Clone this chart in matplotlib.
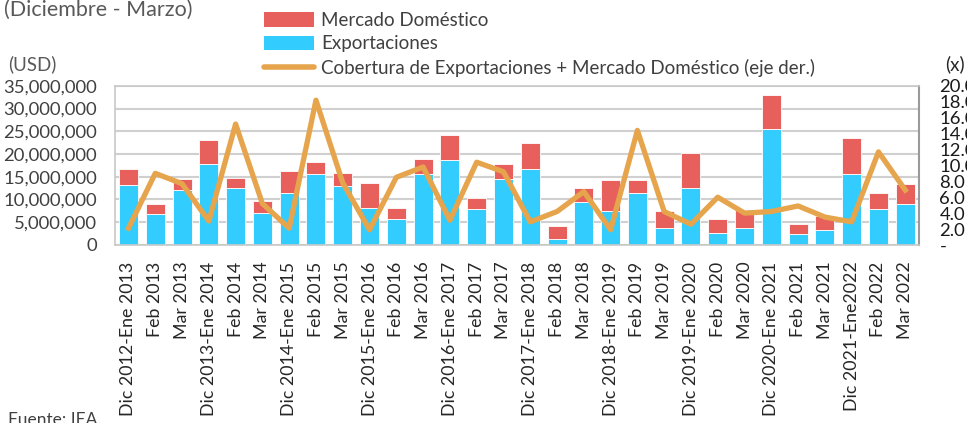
import matplotlib
matplotlib.use("Agg")
import matplotlib.pyplot as plt
import numpy as np
from matplotlib.patches import Patch
from matplotlib.lines import Line2D

plt.rcParams['font.family'] = ['Lato', 'DejaVu Sans']

# Datos (USD y cobertura en veces)
periodos = ["Dic 2012-Ene 2013", "Feb 2013", "Mar 2013",
            "Dic 2013-Ene 2014", "Feb 2014", "Mar 2014",
            "Dic 2014-Ene 2015", "Feb 2015", "Mar 2015",
            "Dic 2015-Ene 2016", "Feb 2016", "Mar 2016",
            "Dic 2016-Ene 2017", "Feb 2017", "Mar 2017",
            "Dic 2017-Ene 2018", "Feb 2018", "Mar 2018",
            "Dic 2018-Ene 2019", "Feb 2019", "Mar 2019",
            "Dic 2019-Ene 2020", "Feb 2020", "Mar 2020",
            "Dic 2020-Ene 2021", "Feb 2021", "Mar 2021",
            "Dic 2021-Ene2022", "Feb 2022", "Mar 2022"]

exportaciones = [13.1, 6.7, 12.0, 17.7, 12.6, 7.0, 11.4, 15.7, 13.0, 8.1,
                 5.6, 15.7, 18.6, 7.85, 14.6, 16.6, 1.25, 9.5, 7.4, 11.4,
                 3.8, 12.6, 2.7, 3.8, 25.5, 2.4, 3.3, 15.7, 7.85, 8.95]
total = [16.8, 9.0, 14.6, 23.0, 14.8, 9.75, 16.3, 18.3, 15.8, 13.7,
         8.1, 18.9, 24.1, 10.3, 17.7, 22.5, 4.2, 12.6, 14.2, 14.2,
         7.4, 20.2, 5.8, 7.7, 32.9, 4.7, 6.4, 23.6, 11.4, 13.4]
cobertura = [2.1, 9.0, 7.7, 3.0, 15.2, 5.2, 2.1, 18.2, 7.8, 1.9,
             8.5, 9.8, 3.1, 10.4, 9.2, 2.9, 4.2, 6.7, 1.9, 14.4,
             4.2, 2.6, 6.0, 4.0, 4.2, 4.9, 3.5, 2.9, 11.7, 6.9]

exportaciones = np.array(exportaciones) * 1e6
domestico = np.array(total) * 1e6 - exportaciones

c_rojo = '#E8605B'
c_azul = '#33CCFF'
c_naranja = '#E6A54C'
c_texto = '#404040'

fig = plt.figure(figsize=(9.67, 4.23), dpi=100)
ax = fig.add_axes([0.119, 0.421, 0.831, 0.376])

x = np.arange(len(periodos))
ax.bar(x, exportaciones, width=0.71, color=c_azul, edgecolor='white', linewidth=0.6, zorder=2)
ax.bar(x, domestico, width=0.71, bottom=exportaciones, color=c_rojo,
       edgecolor='white', linewidth=0.6, zorder=2)

ax.set_xlim(-0.5, len(periodos) - 0.5)
ax.set_ylim(0, 35e6)
ax.set_yticks(np.arange(0, 35e6 + 1, 5e6))
ax.set_yticklabels(['0' if v == 0 else f'{int(v):,}' for v in np.arange(0, 35e6 + 1, 5e6)],
                   fontsize=13.3, color=c_texto)
ax.yaxis.grid(True, color='#D0D0D0', linewidth=1.5, zorder=0)
ax.set_axisbelow(True)
ax.set_xticks(x)
ax.set_xticklabels(periodos, rotation=90, fontsize=12.8, color='#262626', va='top', ha='center')
ax.tick_params(axis='y', length=0, pad=13)
ax.tick_params(axis='x', length=0, pad=12)
for s in ['top', 'left', 'bottom']:
    ax.spines[s].set_color('#C8C8C8')
    ax.spines[s].set_linewidth(1.2)
ax.spines['right'].set_color('#9A9A9A')
ax.spines['right'].set_linewidth(1.5)

ax2 = ax.twinx()
ax2.plot(x, cobertura, color=c_naranja, linewidth=3.8, solid_joinstyle='round', zorder=3)
ax2.set_ylim(0, 20)
ax2.set_yticks(np.arange(0, 21, 2))
ax2.set_yticklabels(['-' if v == 0 else f'{v:.1f}' for v in np.arange(0, 21, 2)],
                    fontsize=13.3, color='#1A1A1A')
ax2.tick_params(axis='y', length=0, pad=15)
for s in ax2.spines.values():
    s.set_visible(False)

# Textos
fig.text(0.004, 1.0, '(Diciembre - Marzo)', fontsize=15.5, color='#595959', va='top', ha='left')
fig.text(0.008, 0.828, '(USD)', fontsize=13.5, color='#595959', va='bottom', ha='left')
fig.text(0.977, 0.828, '(x)', fontsize=13.5, color='#262626', va='bottom', ha='left')
fig.text(0.008, -0.012, 'Fuente: IEA.', fontsize=12.5, color='#404040', va='bottom', ha='left')

handles = [Patch(facecolor=c_rojo, edgecolor='none'),
           Patch(facecolor=c_azul, edgecolor='none'),
           Line2D([0], [0], color=c_naranja, linewidth=4, solid_capstyle='round')]
labels = ['Mercado Doméstico', 'Exportaciones',
          'Cobertura de Exportaciones + Mercado Doméstico (eje der.)']
fig.legend(handles, labels, loc='upper left', bbox_to_anchor=(0.259, 1.0025),
           frameon=False, fontsize=13.5, labelcolor='#404040', handlelength=2.7,
           handleheight=0.8, handletextpad=0.35, labelspacing=0.34, borderpad=0.2)

fig.savefig('out.png', dpi=100)
